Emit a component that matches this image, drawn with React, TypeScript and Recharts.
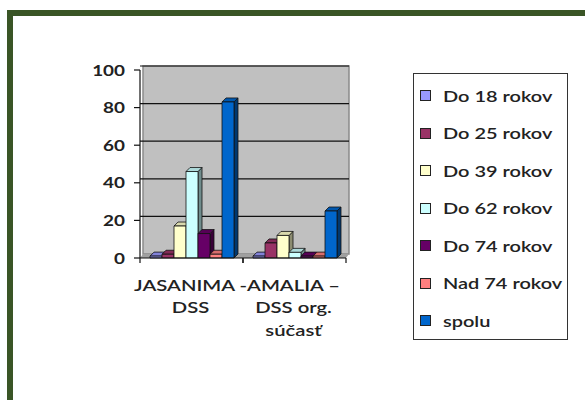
import React from 'react';
import { BarChart, Bar, XAxis, YAxis, ReferenceArea } from 'recharts';

const categories = ['JASANIMA - DSS', 'AMALIA – DSS org. súčasť'];
const categoryLines = [['JASANIMA -', 'DSS'], ['AMALIA –', 'DSS org.', 'súčasť']];
const seriesNames = ['Do 18 rokov', 'Do 25 rokov', 'Do 39 rokov', 'Do 62 rokov', 'Do 74 rokov', 'Nad 74 rokov', 'spolu'];
const seriesColors = ['#9999ff', '#993366', '#ffffcc', '#ccffff', '#660066', '#ff8080', '#0066cc'];
const do18 = [1, 1];
const do25 = [2, 8];
const do39 = [17, 12];
const do62 = [46, 3];
const do74 = [13, 1];
const nad74 = [2, 1];
const spolu = [83, 25];
const yTicks = [0, 20, 40, 60, 80, 100];

const seriesValues = [do18, do25, do39, do62, do74, nad74, spolu];
const data = categories.map((name, i) => {
  const row: Record<string, string | number> = { name };
  seriesNames.forEach((s, j) => {
    row[s] = seriesValues[j][i];
  });
  return row;
});

const FONT = 'Lato, "Open Sans", sans-serif';
const TEXT = '#222';
const DEPTH = 4;
const BAND = 103;

function shade(hex: string, f: number) {
  const n = parseInt(hex.slice(1), 16);
  const r = Math.round(((n >> 16) & 255) * f);
  const g = Math.round(((n >> 8) & 255) * f);
  const b = Math.round((n & 255) * f);
  return `rgb(${r},${g},${b})`;
}

function Bar3D(props: any) {
  const { x, y, width, height, fill } = props;
  if (width == null || height == null) return null;
  const d = DEPTH;
  return (
    <g stroke="#111" strokeWidth={0.8} strokeLinejoin="round">
      <polygon
        points={`${x + width},${y} ${x + width + d},${y - d} ${x + width + d},${y + height - d} ${x + width},${y + height}`}
        fill={shade(fill, 0.55)}
      />
      <polygon
        points={`${x},${y} ${x + d},${y - d} ${x + width + d},${y - d} ${x + width},${y}`}
        fill={shade(fill, 0.85)}
      />
      <rect x={x} y={y} width={width} height={height} fill={fill} />
    </g>
  );
}

function BackWall(props: any) {
  const { x, y, width, height } = props;
  const d = DEPTH;
  const scaleY = height / 100;
  return (
    <g>
      <rect x={x + d - 1} y={y - d} width={width} height={height} fill="#c0c0c0" stroke="#8a8a8a" strokeWidth={1.5} />
      <polygon
        points={`${x},${y + height} ${x + d - 1},${y + height - d} ${x + width + d - 1},${y + height - d} ${x + width},${y + height}`}
        fill="#a0a0a0"
      />
      {yTicks.slice(1).map((t) => (
        <line
          key={t}
          x1={x}
          x2={x + width + d - 1}
          y1={y + height - t * scaleY - d}
          y2={y + height - t * scaleY - d}
          stroke="#111"
          strokeWidth={1.2}
        />
      ))}
    </g>
  );
}

function YTick(props: any) {
  const { x, y, payload } = props;
  return (
    <g transform={`translate(${x - 7},${y}) scale(1.18,1)`}>
      <text x={0} y={0} dy={5.5} textAnchor="end" fill={TEXT} fontFamily={FONT} fontWeight={700} fontSize={16}>
        {payload.value}
      </text>
    </g>
  );
}

function XTick(props: any) {
  const { x, y, index } = props;
  const lines = categoryLines[index] || [];
  return (
    <g>
      <line x1={x - BAND / 2} x2={x - BAND / 2} y1={y - 8} y2={y - 3} stroke="#111" strokeWidth={1.2} />
      <line x1={x + BAND / 2} x2={x + BAND / 2} y1={y - 8} y2={y - 3} stroke="#111" strokeWidth={1.2} />
      {lines.map((l, i) => (
        <g key={i} transform={`translate(${x - 1},${y + 24.5 + i * 22.5}) scale(1.35,1)`}>
          <text x={0} y={0} textAnchor="middle" fill={TEXT} fontFamily={FONT} fontWeight={600} fontSize={15}>
            {l}
          </text>
        </g>
      ))}
    </g>
  );
}

function LegendBox() {
  return (
    <div
      style={{
        position: 'absolute',
        left: 413,
        top: 73,
        width: 155,
        height: 267,
        boxSizing: 'border-box',
        border: '1.5px solid #333',
        background: '#fff',
        paddingTop: 3,
        fontFamily: FONT,
        fontSize: 15,
        fontWeight: 600,
        color: TEXT,
      }}
    >
      {seriesNames.map((s, i) => (
        <div key={s} style={{ height: 37.5, display: 'flex', alignItems: 'center' }}>
          <span
            style={{
              width: 9,
              height: 9,
              marginLeft: 6,
              background: seriesColors[i],
              border: '1px solid #222',
              display: 'inline-block',
              flexShrink: 0,
            }}
          />
          <span style={{ marginLeft: 12, display: 'inline-block', transform: 'scaleX(1.33)', transformOrigin: 'left center', whiteSpace: 'nowrap' }}>
            {s}
          </span>
        </div>
      ))}
    </div>
  );
}

export default function App() {
  return (
    <div style={{ position: 'fixed', left: 0, top: 0, width: 585, height: 400, background: '#fff', overflow: 'hidden' }}>
      <div
        style={{
          position: 'absolute',
          left: 7,
          top: 10,
          width: 620,
          height: 420,
          borderLeft: '6px solid #3a5526',
          borderTop: '6px solid #3a5526',
        }}
      />
      <div style={{ position: 'absolute', left: 0, top: 0 }}>
        <BarChart
          width={585}
          height={400}
          data={data}
          margin={{ top: 70, right: 239, left: 100, bottom: 82 }}
          barCategoryGap={10}
          barGap={0}
        >
          <ReferenceArea y1={0} y2={100} shape={<BackWall />} ifOverflow="visible" />
          <XAxis
            dataKey="name"
            height={60}
            axisLine={{ stroke: '#111', strokeWidth: 1.2 }}
            tickLine={false}
            tick={<XTick />}
            interval={0}
          />
          <YAxis
            width={40}
            domain={[0, 100]}
            ticks={yTicks}
            axisLine={{ stroke: '#111', strokeWidth: 1.2 }}
            tickLine={{ stroke: '#111', strokeWidth: 1.2 }}
            tickSize={6}
            tick={<YTick />}
          />
          {seriesNames.map((s, i) => (
            <Bar key={s} dataKey={s} fill={seriesColors[i]} shape={<Bar3D />} isAnimationActive={false} />
          ))}
        </BarChart>
      </div>
      <LegendBox />
    </div>
  );
}
